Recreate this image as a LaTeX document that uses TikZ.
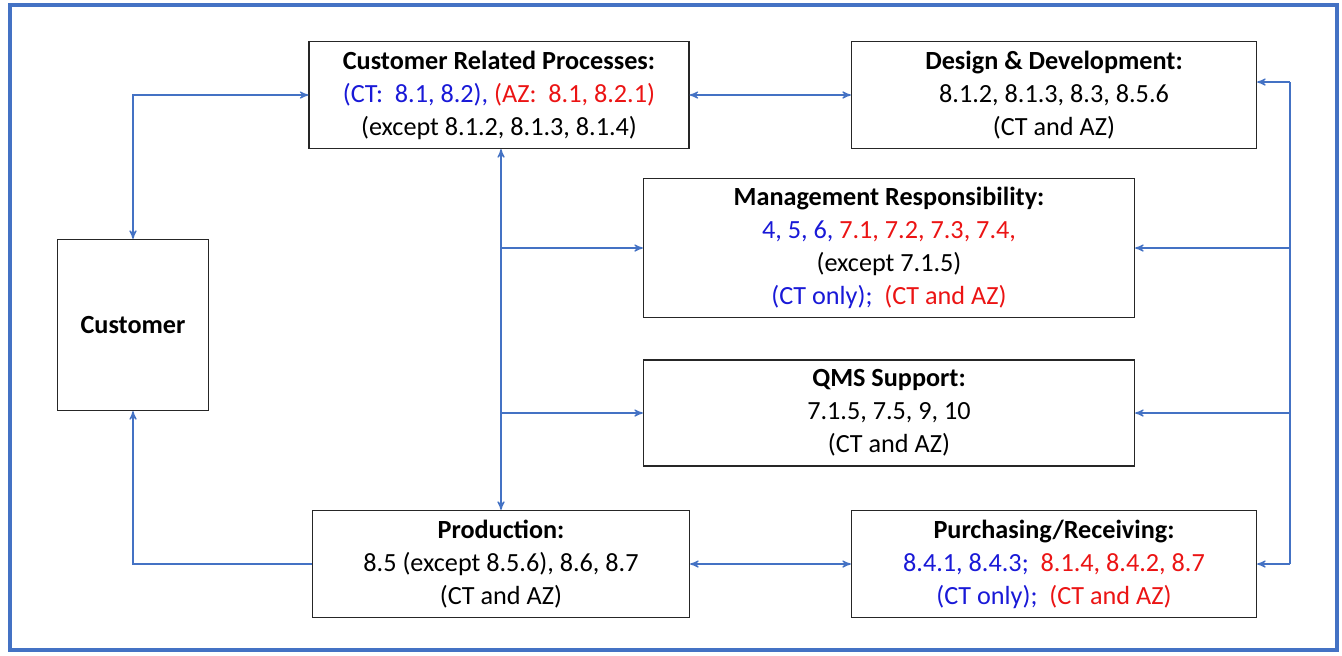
\documentclass[tikz,border=0pt]{standalone}
\usepackage{fontspec}
\setmainfont{Carlito}
\usepackage{xcolor}
\usepackage{tikz}
\usetikzlibrary{arrows,shapes}
\definecolor{linkblue}{RGB}{68,114,196}
\definecolor{ctblue}{RGB}{25,25,215}
\definecolor{azred}{RGB}{235,20,20}

\begin{document}
\begin{tikzpicture}[x=0.5pt, y=-0.5pt, >=stealth', line width=0.6pt, inner sep=2pt]
\tikzstyle{box}=[draw=black!85, line width=0.6pt, align=center, font=\fontsize{13.1}{16.5}\selectfont]
\tikzstyle{link}=[draw=linkblue, line width=0.6pt]

\useasboundingbox (0,0) rectangle (1342,655);
\draw[linkblue, line width=2pt] (10,5) rectangle (1337,650);

\node[box, minimum width=75.5pt, minimum height=85.5pt] (cust) at (133,325) {\textbf{Customer}};
\node[box, minimum width=190pt, minimum height=53.5pt] (crp) at (499,95)
  {\textbf{Customer Related Processes:}\\
   \textcolor{ctblue}{(CT:~ 8.1, 8.2),} \textcolor{azred}{(AZ:~ 8.1, 8.2.1)}\\
   (except 8.1.2, 8.1.3, 8.1.4)};
\node[box, minimum width=202.5pt, minimum height=53.5pt] (dd) at (1054,95)
  {\textbf{Design \& Development:}\\ 8.1.2, 8.1.3, 8.3, 8.5.6\\ (CT and AZ)};
\node[box, minimum width=245.5pt, minimum height=69.5pt] (mr) at (889,248)
  {\textbf{Management Responsibility:}\\
   \textcolor{ctblue}{4, 5, 6,} \textcolor{azred}{7.1, 7.2, 7.3, 7.4,}\\
   (except 7.1.5)\\
   \textcolor{ctblue}{(CT only);}~ \textcolor{azred}{(CT and AZ)}};
\node[box, minimum width=245.5pt, minimum height=53pt] (qms) at (889,413)
  {\textbf{QMS Support:}\\ 7.1.5, 7.5, 9, 10\\ (CT and AZ)};
\node[box, minimum width=188.5pt, minimum height=53.5pt] (prod) at (501,564)
  {\textbf{Production:}\\ 8.5 (except 8.5.6), 8.6, 8.7\\ (CT and AZ)};
\node[box, minimum width=202.5pt, minimum height=53.5pt] (pr) at (1054,564)
  {\textbf{Purchasing/Receiving:}\\
   \textcolor{ctblue}{8.4.1, 8.4.3;}~ \textcolor{azred}{8.1.4, 8.4.2, 8.7}\\
   \textcolor{ctblue}{(CT only);}~ \textcolor{azred}{(CT and AZ)}};

% right hand feed line
\coordinate (bustop) at (1290,82);
\coordinate (busbot) at (1290,564);

\draw[link, <->] (cust.north) |- (crp.west);
\draw[link, <->] (crp) -- (dd);
\draw[link, <->] (crp.south -| prod.north) -- (prod.north);
\draw[link, ->] (prod.north |- mr.west) -- (mr.west);
\draw[link, ->] (prod.north |- qms.west) -- (qms.west);
\draw[link, ->] (prod.west) -| (cust.south);
\draw[link, <->] (prod) -- (pr);

\draw[link] (bustop) -- (busbot);
\draw[link, ->] (bustop) -- (dd.east |- bustop);
\draw[link, ->] (bustop |- mr.east) -- (mr.east);
\draw[link, ->] (bustop |- qms.east) -- (qms.east);
\draw[link, ->] (busbot) -- (pr.east);
\end{tikzpicture}
\end{document}
